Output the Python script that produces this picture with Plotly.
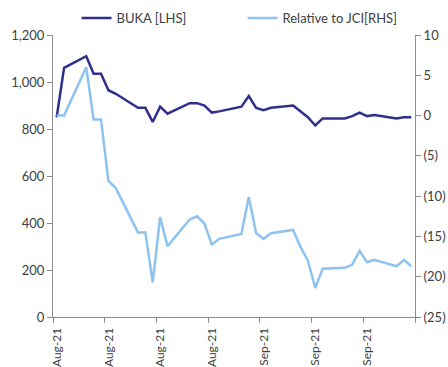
import plotly.graph_objects as go

dates = ["2021-08-05", "2021-08-06", "2021-08-09", "2021-08-10", "2021-08-11", "2021-08-12",
         "2021-08-13", "2021-08-16", "2021-08-17", "2021-08-18", "2021-08-19", "2021-08-20",
         "2021-08-23", "2021-08-24", "2021-08-25", "2021-08-26", "2021-08-27", "2021-08-30",
         "2021-08-31", "2021-09-01", "2021-09-02", "2021-09-03", "2021-09-06", "2021-09-07",
         "2021-09-08", "2021-09-09", "2021-09-10", "2021-09-13", "2021-09-14", "2021-09-15",
         "2021-09-16", "2021-09-17", "2021-09-20", "2021-09-21", "2021-09-22"]
buka = [850, 1060, 1110, 1035, 1035, 965,
        950, 890, 890, 830, 895, 865,
        910, 910, 900, 870, 875, 895,
        940, 890, 880, 890, 900, 875,
        850, 815, 845, 845, 855, 870,
        855, 860, 845, 850, 850]
rel_jci = [0.0, 0.0, 6.0, -0.5, -0.5, -8.1,
           -9.0, -14.5, -14.5, -20.7, -12.6, -16.2,
           -12.9, -12.5, -13.4, -16.0, -15.3, -14.7,
           -10.1, -14.6, -15.3, -14.6, -14.2, -16.3,
           -18.0, -21.4, -19.0, -18.9, -18.5, -16.8,
           -18.2, -17.9, -18.7, -17.9, -18.7]

x_tickvals = ["2021-08-04 12:00", "2021-08-11 12:00", "2021-08-18 12:00", "2021-08-25 12:00",
              "2021-09-01 12:00", "2021-09-08 12:00", "2021-09-15 12:00", "2021-09-22 12:00"]
x_ticktext = ["Aug-21", "Aug-21", "Aug-21", "Aug-21", "Sep-21", "Sep-21", "Sep-21", ""]
left_ticks = [0, 200, 400, 600, 800, 1000, 1200]
right_tickvals = [10, 5, 0, -5, -10, -15, -20, -25]
right_ticktext = ["10", "5", "0", "(5)", "(10)", "(15)", "(20)", "(25)"]

axis_col = "#8c8c8c"
txt_col = "#404040"
font = dict(family="Lato, Open Sans, sans-serif", size=12, color=txt_col)

fig = go.Figure()
fig.add_trace(go.Scatter(x=dates, y=buka, mode="lines", name="BUKA [LHS]",
                         line=dict(color="#302f8c", width=2.5), yaxis="y"))
fig.add_trace(go.Scatter(x=dates, y=rel_jci, mode="lines", name="Relative to JCI[RHS]",
                         line=dict(color="#8ec3f0", width=2.5), yaxis="y2"))

fig.update_layout(
    width=448, height=367,
    margin=dict(l=53, r=33, t=35, b=50, autoexpand=False),
    paper_bgcolor="white", plot_bgcolor="white",
    font=font,
    showlegend=True,
    legend=dict(orientation="h", x=0.065, y=1.06, xanchor="left", yanchor="middle",
                entrywidth=121, itemwidth=30, font=dict(size=13, color=txt_col),
                bgcolor="rgba(0,0,0,0)", tracegroupgap=0),
    xaxis=dict(type="date", range=["2021-08-04 12:00", "2021-09-22 12:00"],
               tickvals=x_tickvals, ticktext=x_ticktext, tickangle=-90,
               showgrid=False, zeroline=False, showline=True, linecolor=axis_col, linewidth=1,
               ticks="outside", ticklen=5, tickcolor=axis_col, ticklabelshift=4,
               tickfont=dict(size=12, color=txt_col)),
    yaxis=dict(range=[0, 1200], tickvals=left_ticks, tickformat=",",
               showgrid=False, zeroline=False, showline=True, linecolor=axis_col, linewidth=1,
               ticks="outside", ticklen=5, tickcolor=axis_col,
               tickfont=dict(size=13, color=txt_col)),
    yaxis2=dict(range=[-25, 10], tickvals=right_tickvals, ticktext=right_ticktext,
                overlaying="y", side="right",
                showgrid=False, zeroline=False, showline=True, linecolor=axis_col, linewidth=1,
                ticks="outside", ticklen=5, tickcolor=axis_col,
                tickfont=dict(size=13, color=txt_col)),
)

fig.write_html("out.html")
